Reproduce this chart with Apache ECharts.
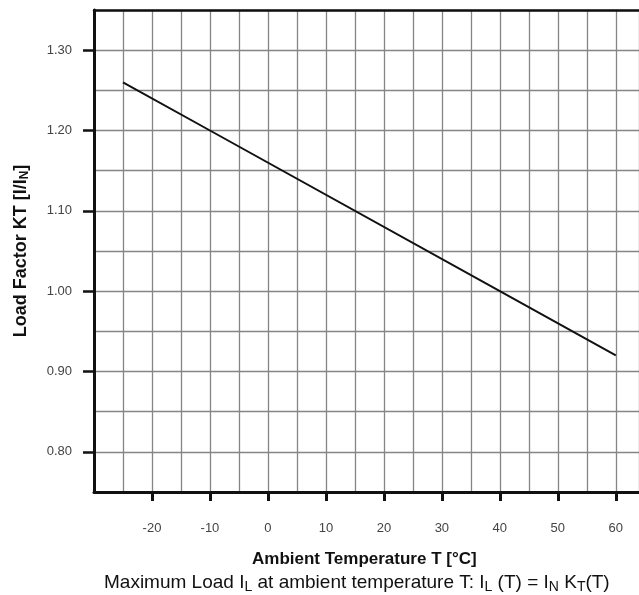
<!DOCTYPE html>
<html>
<head>
<meta charset="utf-8">
<script src="https://cdn.jsdelivr.net/npm/echarts@6/dist/echarts.min.js"></script>
<style>
html,body{margin:0;padding:0;background:#fff;}
#chart{width:639px;height:595px;}
</style>
</head>
<body>
<div id="chart"></div>
<script>
// Data
var temperatures = [-25, -10, 40, 60];
var loadFactor = [1.26, 1.20, 1.00, 0.92];
var xTickLabels = [-20, -10, 0, 10, 20, 30, 40, 50, 60];
var yTickLabels = [0.80, 0.90, 1.00, 1.10, 1.20, 1.30];

var FONT = '"Liberation Sans", Arial, sans-serif';
var points = temperatures.map(function (t, i) { return [t, loadFactor[i]]; });
var GRID_LINE = {show: true, lineStyle: {color: '#858585', width: 1.3}};

var chart = echarts.init(document.getElementById('chart'), null, {renderer: 'canvas'});
chart.setOption({
  backgroundColor: '#ffffff',
  animation: false,
  grid: {left: 94, right: 0, top: 10, bottom: 103, containLabel: false},
  xAxis: [{
    type: 'value', min: -30, max: 64, interval: 5,
    axisLine: {show: true, onZero: false, lineStyle: {color: '#111', width: 3}},
    axisTick: {show: true, customValues: xTickLabels, length: 9, lineStyle: {color: '#111', width: 3}},
    axisLabel: {show: true, customValues: xTickLabels, margin: 30, color: '#444', fontSize: 13, fontFamily: FONT},
    splitLine: {show: false}
  }, {
    type: 'value', position: 'top', min: -30, max: 64, interval: 5,
    axisLine: {show: true, lineStyle: {color: '#111', width: 2.5}},
    axisTick: {show: false}, axisLabel: {show: false}, splitLine: GRID_LINE
  }],
  yAxis: [{
    type: 'value', min: 0.75, max: 1.35, interval: 0.05,
    axisLine: {show: true, onZero: false, lineStyle: {color: '#111', width: 3}},
    axisTick: {show: true, customValues: yTickLabels, length: 11, lineStyle: {color: '#111', width: 2.5}},
    axisLabel: {show: true, customValues: yTickLabels, margin: 22, color: '#444', fontSize: 13, fontFamily: FONT,
      formatter: function (v) { return v.toFixed(2); }},
    splitLine: {show: false},
    name: 'Load Factor KT [I/I{sub|N}]',
    nameLocation: 'middle', nameGap: 63, nameRotate: 90,
    nameTextStyle: {color: '#111', fontSize: 18, fontWeight: 'bold', fontFamily: FONT,
      rich: {sub: {fontSize: 12, fontWeight: 'bold', fontFamily: FONT, color: '#111', padding: [8, 0, 0, 0]}}}
  }, {
    type: 'value', position: 'right', min: 0.75, max: 1.35, interval: 0.05,
    axisLine: {show: false}, axisTick: {show: false}, axisLabel: {show: false}, splitLine: GRID_LINE
  }],
  series: [{
    type: 'line', data: points, symbol: 'none', xAxisIndex: 0, yAxisIndex: 0,
    lineStyle: {color: '#111', width: 2}
  }],
  graphic: [{
    type: 'text', left: 252, top: 551,
    style: {text: 'Ambient Temperature T [°C]', font: 'bold 17px ' + FONT, fill: '#111'}
  }, {
    type: 'text', left: 104, top: 573,
    style: {
      text: 'Maximum Load I{sub|L} at ambient temperature T: I{sub|L} (T) = I{sub|N} K{sub|T}(T)',
      font: '19px ' + FONT, fill: '#111',
      rich: {sub: {fontSize: 14, fontFamily: FONT, fill: '#111', padding: [10, 0, 0, 0]}}
    }
  }]
});
</script>
</body>
</html>
